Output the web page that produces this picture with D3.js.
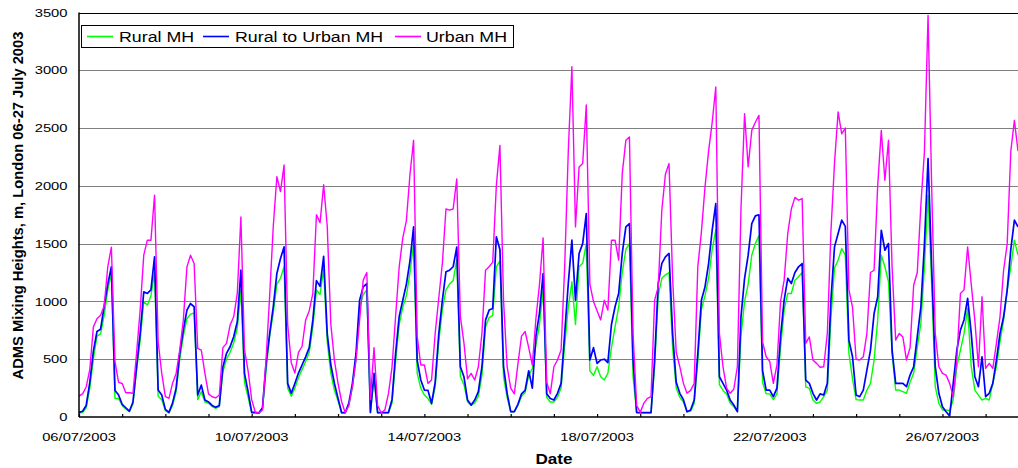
<!DOCTYPE html>
<html>
<head>
<meta charset="utf-8">
<script src="https://cdn.jsdelivr.net/npm/d3@7"></script>
<style>
  html, body { margin: 0; padding: 0; background: #fff; }
  svg { display: block; font-family: "Liberation Sans", Arial, sans-serif; }
</style>
</head>
<body>
<svg id="chart" width="1018" height="468"></svg>
<script>
// ADMS mixing heights (m), London, sampled every 2 hours from 06/07/2003 00:00
const startTime = new Date(2003, 6, 6, 0, 0);
const endTime = new Date(2003, 6, 27, 18, 0);
const stepHours = 2;

const seriesNames = ["Rural MH", "Rural to Urban MH", "Urban MH"];
const seriesColors = ["#00ff00", "#0000ff", "#ff00ff"];

const yTicks = [0, 500, 1000, 1500, 2000, 2500, 3000, 3500];
const dateLabels = ["06/07/2003", "10/07/2003", "14/07/2003", "18/07/2003", "22/07/2003", "26/07/2003"];

// one row per day, 12 values (00h, 02h, ... 22h)
const ruralMH = [
  35, 40, 80, 250, 500, 700, 720, 880, 1100, 1240, 160, 160,
  100, 70, 45, 110, 400, 660, 1000, 968, 1050, 1250, 180, 150,
  55, 35, 100, 220, 500, 700, 850, 890, 900, 150, 220, 130,
  120, 90, 75, 90, 390, 500, 560, 640, 770, 1100, 300, 170,
  35, 35, 30, 70, 400, 700, 900, 1150, 1200, 1300, 250, 180,
  250, 340, 410, 480, 560, 780, 1100, 1060, 1280, 650, 380, 230,
  140, 37, 37, 100, 260, 500, 950, 1060, 1100, 37, 330, 37,
  37, 37, 37, 120, 480, 800, 950, 1050, 1250, 1500, 380, 250,
  190, 160, 110, 260, 650, 930, 1100, 1150, 1180, 1360, 350, 280,
  130, 100, 120, 180, 360, 780, 860, 880, 1300, 1350, 350, 170,
  46, 46, 100, 180, 210, 360, 420, 620, 800, 1100, 170, 130,
  130, 170, 250, 620, 950, 1170, 800, 1300, 1330, 1500, 400, 360,
  435, 348, 320, 377, 600, 780, 950, 1250, 1450, 1500, 350, 37,
  37, 37, 37, 37, 430, 1050, 1200, 1230, 1250, 600, 250, 170,
  130, 46, 50, 120, 480, 930, 1050, 1200, 1450, 1620, 280, 230,
  200, 120, 90, 46, 700, 1000, 1150, 1400, 1500, 1570, 300, 200,
  200, 150, 200, 600, 925, 1069, 1069, 1184, 1213, 1250, 260, 248,
  147, 118, 130, 176, 230, 850, 1290, 1357, 1458, 1400, 550, 330,
  150, 147, 147, 233, 291, 493, 838, 1400, 1300, 1170, 550, 233,
  233, 220, 205, 300, 380, 600, 810, 1300, 1919, 1155, 262, 118,
  61, 60, 55, 150, 435, 579, 723, 939, 435, 233, 190, 147,
  161, 147, 291, 435, 650, 838, 1097, 1299, 1530, 1400
];

const ruralToUrbanMH = [
  40, 50, 100, 300, 570, 740, 760, 960, 1150, 1300, 230, 190,
  110, 80, 50, 130, 435, 723, 1083, 1069, 1100, 1386, 233, 190,
  66, 40, 120, 250, 550, 752, 925, 982, 954, 190, 276, 147,
  130, 100, 85, 100, 435, 550, 608, 694, 824, 1270, 377, 219,
  40, 40, 35, 80, 464, 723, 954, 1242, 1371, 1472, 291, 205,
  290, 380, 450, 520, 600, 840, 1180, 1130, 1390, 720, 450, 290,
  161, 37, 37, 120, 291, 550, 1011, 1126, 1155, 40, 377, 37,
  37, 37, 37, 150, 550, 870, 1010, 1150, 1350, 1645, 490, 320,
  233, 230, 118, 300, 720, 1010, 1256, 1270, 1300, 1470, 435, 348,
  147, 104, 147, 219, 435, 838, 925, 939, 1559, 1450, 435, 205,
  46, 46, 110, 200, 230, 400, 250, 700, 900, 1240, 200, 160,
  147, 205, 291, 723, 1155, 1530, 1011, 1415, 1500, 1760, 493, 600,
  464, 493, 500, 470, 800, 954, 1069, 1415, 1645, 1674, 500, 40,
  37, 37, 37, 37, 500, 1155, 1330, 1386, 1415, 723, 300, 205,
  150, 46, 60, 147, 550, 1011, 1126, 1328, 1616, 1847, 348, 291,
  233, 147, 104, 46, 867, 1200, 1400, 1674, 1740, 1750, 400, 233,
  233, 176, 250, 700, 1011, 1200, 1155, 1250, 1300, 1328, 320, 291,
  205, 147, 200, 190, 291, 1011, 1472, 1587, 1703, 1650, 665, 521,
  190, 176, 233, 406, 579, 896, 1040, 1616, 1443, 1501, 579, 291,
  291, 291, 262, 363, 435, 694, 950, 1500, 2236, 1300, 435, 205,
  89, 46, 10, 291, 579, 752, 840, 1026, 723, 348, 262, 521,
  176, 205, 291, 493, 723, 867, 1100, 1450, 1703, 1645
];

const urbanMH = [
  180, 200, 260, 410, 780, 850, 880, 960, 1300, 1470, 480, 300,
  290, 210, 210, 205, 550, 925, 1400, 1530, 1530, 1919, 650, 377,
  176, 161, 291, 377, 579, 838, 1299, 1400, 1328, 593, 579, 377,
  200, 175, 165, 190, 600, 637, 795, 867, 1069, 1731, 580, 400,
  150, 40, 35, 60, 500, 1050, 1650, 2080, 1950, 2180, 800, 470,
  380, 560, 610, 840, 920, 1070, 1750, 1680, 2010, 1650, 800, 490,
  291, 132, 37, 100, 262, 493, 838, 1184, 1250, 150, 600, 100,
  37, 60, 200, 430, 870, 1300, 1550, 1700, 2100, 2394, 700, 450,
  450, 291, 320, 723, 1030, 1330, 1800, 1790, 1800, 2060, 870, 640,
  330, 377, 320, 435, 723, 1270, 1300, 1340, 2000, 2350, 1011, 435,
  250, 200, 460, 700, 740, 600, 450, 850, 1150, 1550, 300, 200,
  435, 493, 579, 1300, 2300, 3030, 1645, 2164, 2193, 2700, 1150, 1000,
  920, 840, 1010, 925, 1530, 1530, 1357, 2106, 2394, 2423, 723, 100,
  40, 120, 161, 176, 1011, 1126, 1789, 2100, 2193, 1200, 560, 435,
  291, 205, 230, 291, 1300, 1600, 1990, 2300, 2550, 2855, 723, 435,
  250, 205, 240, 435, 1800, 2625, 2164, 2480, 2550, 2610, 650, 521,
  480, 291, 450, 1000, 1184, 1587, 1800, 1900, 1876, 1890, 637, 693,
  493, 464, 430, 435, 723, 1600, 2200, 2640, 2450, 2500, 1100, 950,
  500, 493, 521, 723, 1250, 1270, 2000, 2480, 2048, 2394, 1300, 665,
  723, 693, 493, 600, 1140, 1250, 1832, 2300, 3475, 2000, 723, 435,
  377, 363, 291, 176, 493, 1069, 1100, 1472, 1150, 838, 435, 1040,
  420, 464, 420, 637, 867, 1270, 1500, 2300, 2567, 2300
];

const seriesValues = [ruralMH, ruralToUrbanMH, urbanMH];

const svg = d3.select("#chart");
const plot = { left: 79, right: 1018, top: 12.5, bottom: 417 };
const textStretch = 1.27;

const x = d3.scaleTime().domain([startTime, endTime]).range([plot.left, plot.right]);
const y = d3.scaleLinear().domain([0, 3500]).range([plot.bottom, plot.top]);

const parseLabel = d3.timeParse("%d/%m/%Y");
const formatLabel = d3.timeFormat("%d/%m/%Y");

// horizontal gridlines
svg.append("g")
  .selectAll("line")
  .data(yTicks.filter(v => v > 0 && v < 3500))
  .join("line")
  .attr("x1", plot.left).attr("x2", plot.right)
  .attr("y1", d => Math.round(y(d)) + 0.5).attr("y2", d => Math.round(y(d)) + 0.5)
  .attr("stroke", "#808080").attr("stroke-width", 1);

// series lines
const line = d3.line()
  .x((d, i) => x(d3.timeHour.offset(startTime, i * stepHours)))
  .y(d => y(d));

svg.append("g")
  .selectAll("path")
  .data(seriesValues)
  .join("path")
  .attr("d", d => line(d))
  .attr("fill", "none")
  .attr("stroke", (d, i) => seriesColors[i])
  .attr("stroke-width", (d, i) => i === 1 ? 1.7 : 1.4)
  .attr("stroke-linejoin", "round");

// plot frame: top edge and axes
svg.append("line")
  .attr("x1", plot.left).attr("x2", plot.right)
  .attr("y1", Math.round(y(3500)) + 0.5).attr("y2", Math.round(y(3500)) + 0.5)
  .attr("stroke", "#000").attr("stroke-width", 1.2);

const xAxis = d3.axisBottom(x)
  .ticks(d3.timeDay.every(1))
  .tickSize(-3)
  .tickFormat("");
const xAxisG = svg.append("g")
  .attr("transform", `translate(0,${plot.bottom})`)
  .call(xAxis);
xAxisG.select(".domain").attr("stroke", "#000").attr("stroke-width", 1.5)
  .attr("d", `M${plot.left},0H${plot.right}`);
xAxisG.selectAll(".tick line").attr("stroke", "#000").attr("stroke-width", 1.2);

svg.append("line")
  .attr("x1", plot.left).attr("x2", plot.left)
  .attr("y1", y(3500)).attr("y2", y(0))
  .attr("stroke", "#000").attr("stroke-width", 1.5);

// y tick labels
svg.append("g")
  .selectAll("text")
  .data(yTicks)
  .join("text")
  .attr("transform", d => `translate(67.5,${y(d) + 4.2}) scale(${textStretch},1)`)
  .attr("text-anchor", "end")
  .attr("font-size", 11.6)
  .attr("fill", "#000")
  .text(d => d);

// date labels
svg.append("g")
  .selectAll("text")
  .data(dateLabels.map(parseLabel))
  .join("text")
  .attr("transform", d => `translate(${x(d)},440.5) scale(${textStretch},1)`)
  .attr("text-anchor", "middle")
  .attr("font-size", 11.6)
  .attr("fill", "#000")
  .text(d => formatLabel(d));

// axis titles
svg.append("text")
  .attr("transform", "translate(554,464) scale(1.22,1)")
  .attr("text-anchor", "middle")
  .attr("font-size", 14)
  .attr("font-weight", "bold")
  .text("Date");

svg.append("text")
  .attr("transform", "translate(22.5,205.5) rotate(-90) scale(1.18,1.23)")
  .attr("text-anchor", "middle")
  .attr("font-size", 12.5)
  .attr("font-weight", "bold")
  .text("ADMS Mixing Heights, m, London 06-27 July 2003");

// legend
const legend = svg.append("g");
legend.append("rect")
  .attr("x", 81.5).attr("y", 25.5).attr("width", 432).attr("height", 22)
  .attr("fill", "#fff").attr("stroke", "#000").attr("stroke-width", 1);
const legendItems = [
  { x: 87, tx: 119 },
  { x: 203, tx: 235 },
  { x: 395, tx: 426 }
];
legendItems.forEach((it, i) => {
  legend.append("line")
    .attr("x1", it.x).attr("x2", it.x + 26)
    .attr("y1", 36.5).attr("y2", 36.5)
    .attr("stroke", seriesColors[i]).attr("stroke-width", 1.6);
  legend.append("text")
    .attr("transform", `translate(${it.tx},41.7) scale(${textStretch},1)`)
    .attr("font-size", 14)
    .attr("fill", "#000")
    .text(seriesNames[i]);
});
</script>
</body>
</html>
